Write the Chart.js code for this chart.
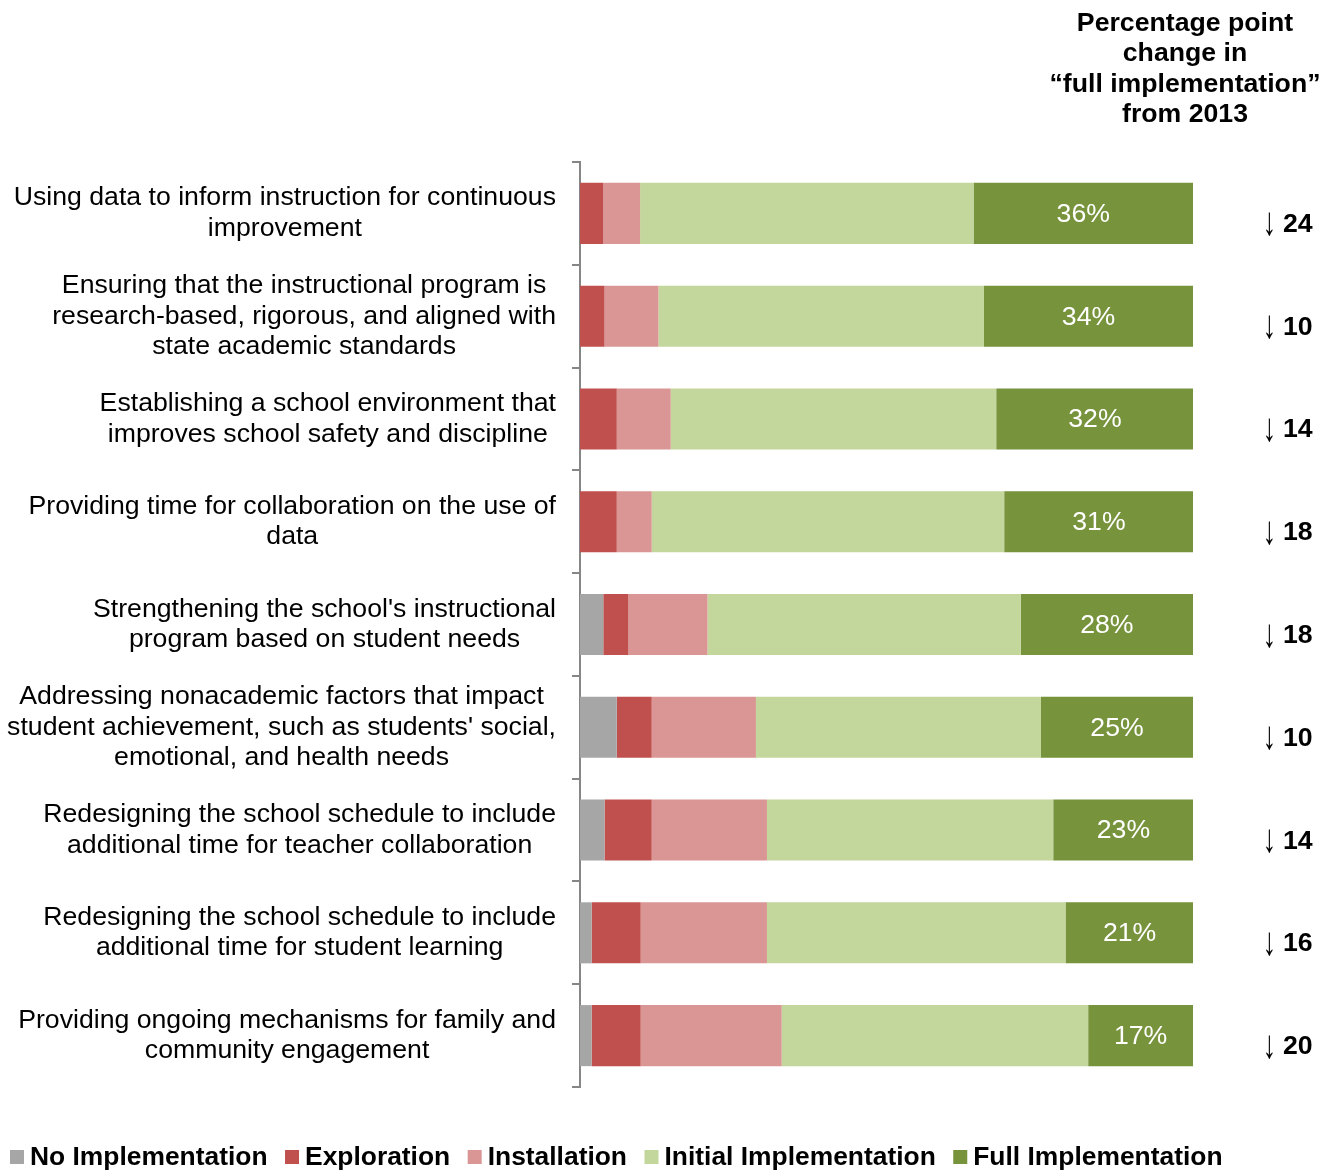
<!DOCTYPE html>
<html><head><meta charset="utf-8">
<script src="https://cdn.jsdelivr.net/npm/chart.js@4.4.1/dist/chart.umd.min.js"></script>
<style>html,body{margin:0;padding:0;background:#fff}#wrap{width:1331px;height:1172px;position:relative}</style>
</head><body><div id="wrap"><canvas id="c" width="1331" height="1172"></canvas></div>
<script>
const categories = [
  ["Using data to inform instruction for continuous","improvement"],
  ["Ensuring that the instructional program is","research-based, rigorous, and aligned with","state academic standards"],
  ["Establishing a school environment that","improves school safety and discipline"],
  ["Providing time for collaboration on the use of","data"],
  ["Strengthening the school's instructional","program based on student needs"],
  ["Addressing nonacademic factors that impact","student achievement, such as students' social,","emotional, and health needs"],
  ["Redesigning the school schedule to include","additional time for teacher collaboration"],
  ["Redesigning the school schedule to include","additional time for student learning"],
  ["Providing ongoing mechanisms for family and","community engagement"]
];
const noImplementation      = [0, 0, 0, 0, 3.8, 6.0, 4.0, 1.9, 1.9];
const exploration           = [3.8, 4.0, 6.0, 6.0, 4.1, 5.7, 7.7, 8.0, 8.0];
const installation          = [6.0, 8.8, 8.8, 5.7, 12.9, 17.0, 18.8, 20.6, 23.0];
const initialImplementation = [54.4, 53.1, 53.1, 57.5, 51.1, 46.5, 46.7, 48.7, 50.0];
const fullImplementation    = [35.8, 34.1, 32.2, 30.9, 28.1, 24.8, 22.9, 20.9, 17.1];
const changeFrom2013        = [24, 10, 14, 18, 18, 10, 14, 16, 20];
const seriesNames  = ["No Implementation","Exploration","Installation","Initial Implementation","Full Implementation"];
const seriesColors = ["#A6A6A6","#C0504D","#D99694","#C3D69B","#77933C"];
const titleLines   = ["Percentage point","change in","\u201Cfull implementation\u201D","from 2013"];

const FONT = '"Liberation Sans", Arial, Helvetica, sans-serif';
const FS = 26.67;

const seriesData = [noImplementation, exploration, installation, initialImplementation, fullImplementation];

const annot = {
  id: 'annot',
  afterDatasetsDraw(chart) {
    const ctx = chart.ctx;
    const ca = chart.chartArea;
    const yScale = chart.scales.y;
    ctx.save();
    // data labels on Full Implementation
    const meta = chart.getDatasetMeta(4);
    ctx.fillStyle = '#FFFFFF';
    ctx.font = `${FS}px ${FONT}`;
    ctx.textAlign = 'center';
    ctx.textBaseline = 'middle';
    meta.data.forEach((bar, i) => {
      ctx.fillText(Math.round(fullImplementation[i]) + '%', (bar.x + bar.base) / 2, bar.y + 1);
    });
    // category labels: block right-aligned, lines centered
    ctx.fillStyle = '#000000';
    const rightEdge = ca.left - 24;
    categories.forEach((lines, i) => {
      const cy = yScale.getPixelForValue(i);
      let maxW = 0;
      lines.forEach(l => { maxW = Math.max(maxW, ctx.measureText(l).width); });
      const cx = rightEdge - maxW / 2;
      const lh = 30.5;
      lines.forEach((l, k) => {
        ctx.fillText(l, cx, cy + (k - (lines.length - 1) / 2) * lh);
      });
    });
    // change annotations
    categories.forEach((_, i) => {
      const cy = yScale.getPixelForValue(i);
      ctx.textBaseline = 'alphabetic';
      ctx.font = `${FS}px ${FONT}`;
      ctx.textAlign = 'center';
      const m = ctx.measureText('\u2193');
      const asc = m.actualBoundingBoxAscent, desc = m.actualBoundingBoxDescent;
      const gh = (asc + desc) || 12;
      const sy = 24 / gh;
      const top = cy - 0.5;
      ctx.save();
      ctx.translate(ca.right + 76.5, top + asc * sy);
      ctx.scale(1, sy);
      ctx.fillText('\u2193', 0, 0);
      ctx.restore();
      ctx.font = `bold ${FS}px ${FONT}`;
      ctx.textAlign = 'left';
      ctx.fillText(String(changeFrom2013[i]), ca.right + 90, cy + 18.5);
    });
    // title
    ctx.font = `bold ${FS}px ${FONT}`;
    ctx.textAlign = 'center';
    ctx.textBaseline = 'alphabetic';
    titleLines.forEach((t, k) => ctx.fillText(t, 1185, 31 + k * 30.3));
    // legend
    ctx.font = `bold 26.4px ${FONT}`;
    let x = 10;
    const ly = 1157;
    ctx.textAlign = 'left';
    ctx.textBaseline = 'middle';
    seriesNames.forEach((n, k) => {
      ctx.fillStyle = seriesColors[k];
      ctx.fillRect(x, ly - 7, 14, 14);
      ctx.fillStyle = '#000000';
      ctx.fillText(n, x + 20, ly + 1);
      x += 20 + ctx.measureText(n).width + 17.5;
    });
    ctx.restore();
  }
};

new Chart(document.getElementById('c'), {
  type: 'bar',
  data: {
    labels: categories.map(c => c.join(' ')),
    datasets: seriesNames.map((n, k) => ({
      label: n,
      data: seriesData[k],
      backgroundColor: seriesColors[k],
      borderWidth: 0,
      barPercentage: 0.594,
      categoryPercentage: 1.0
    }))
  },
  options: {
    indexAxis: 'y',
    responsive: false,
    animation: false,
    devicePixelRatio: 1,
    events: [],
    layout: { padding: { left: 572, right: 138, top: 162, bottom: 85 } },
    plugins: { legend: { display: false }, tooltip: { enabled: false }, title: { display: false } },
    scales: {
      x: { stacked: true, min: 0, max: 100, display: false },
      y: {
        stacked: true,
        offset: true,
        ticks: { display: false },
        grid: { offset: true, drawOnChartArea: false, drawTicks: true, tickLength: 8, color: '#868686', lineWidth: 2 },
        border: { display: true, color: '#868686', width: 2 },
        afterFit(s) { s.width = 8; }
      }
    }
  },
  plugins: [annot]
});
</script>
</body></html>
